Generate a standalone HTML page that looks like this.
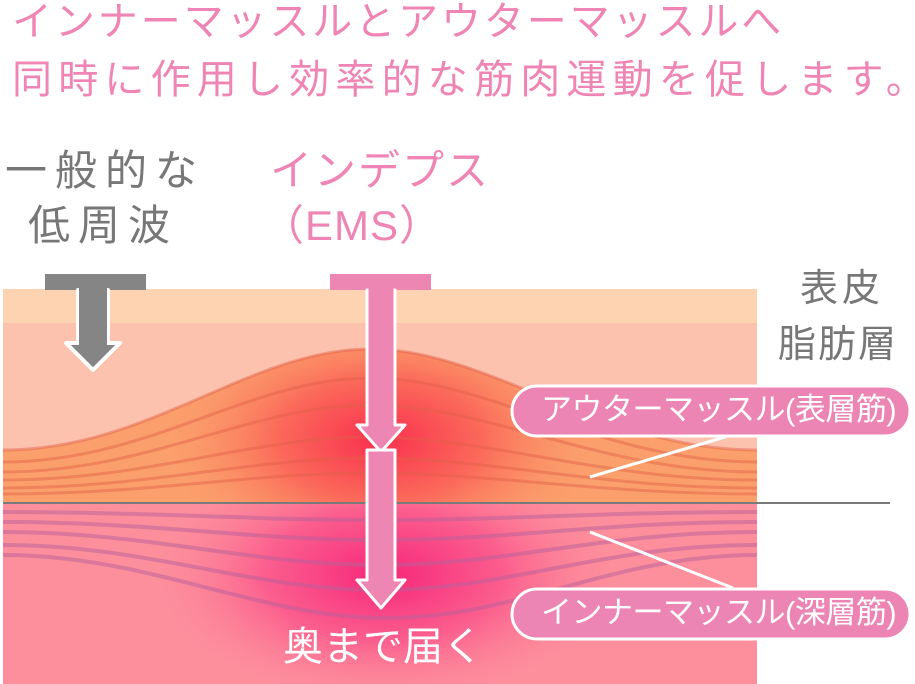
<!DOCTYPE html>
<html><head><meta charset="utf-8"><style>
html,body{margin:0;padding:0;background:#fff;}
body{width:915px;height:684px;overflow:hidden;position:relative;font-family:"Liberation Sans","Noto Sans CJK JP",sans-serif;}
.t{position:absolute;white-space:nowrap;line-height:1;}
</style></head><body>
<svg width="915" height="684" style="position:absolute;left:0;top:0">
<defs>
<radialGradient id="rg1" cx="380" cy="440" r="230" gradientUnits="userSpaceOnUse" gradientTransform="translate(380 440) scale(1 0.6) translate(-380 -440)">
<stop offset="0" stop-color="#f9304f"/><stop offset="0.45" stop-color="#fb6a5a"/><stop offset="1" stop-color="#fba06c" stop-opacity="0"/></radialGradient>
<radialGradient id="rg2" cx="385" cy="575" r="240" gradientUnits="userSpaceOnUse" gradientTransform="translate(385 575) scale(1 0.55) translate(-385 -575)">
<stop offset="0" stop-color="#f7277a"/><stop offset="0.5" stop-color="#fb5e8e"/><stop offset="1" stop-color="#fd8a9c" stop-opacity="0"/></radialGradient>
<clipPath id="pc"><rect x="3" y="289" width="754" height="395"/></clipPath>
</defs>
<g clip-path="url(#pc)">
<rect x="3" y="289" width="754" height="395" fill="#fd8f9c"/>
<rect x="3" y="289" width="754" height="34" fill="#fdd3b1"/>
<rect x="3" y="323" width="754" height="180" fill="#fdc2ad"/>
<path d="M3,450 C150,450 250,349 370,349 C490,349 600,450 757,450 L757,503 L3,503Z" fill="#fba06c"/>
<path d="M3,450 C150,450 250,349 370,349 C490,349 600,450 757,450 L757,503 L3,503Z" fill="url(#rg1)"/>
<g fill="none" stroke="#e0604a" stroke-opacity="0.45" stroke-width="3">
<path d="M3,450 C150,450 250,349 370,349 C490,349 600,450 757,450"/>
<path d="M3,462 C150,462 250,378 370,378 C490,378 600,462 757,462"/>
<path d="M3,472 C150,472 250,405 370,405 C490,405 600,472 757,472"/>
<path d="M3,480 C150,480 250,437 370,437 C490,437 600,480 757,480"/>
<path d="M3,488 C150,488 250,458 370,458 C490,458 600,488 757,488"/>
<path d="M3,494 C150,494 250,473 370,473 C490,473 600,494 757,494"/>
</g>
<rect x="3" y="503" width="754" height="181" fill="#fd8f9c"/>
<rect x="3" y="503" width="754" height="181" fill="url(#rg2)"/>
<g fill="none" stroke="#b8609a" stroke-opacity="0.5" stroke-width="4">
<path d="M3,512 C150,512 250,520 380,520 C510,520 600,512 757,512"/>
<path d="M3,522 C150,522 250,540 380,540 C510,540 600,522 757,522"/>
<path d="M3,532 C150,532 250,565 380,565 C510,565 600,532 757,532"/>
<path d="M3,545 C150,545 250,590 380,590 C510,590 600,545 757,545"/>
<path d="M3,555 C150,555 260,618 385,618 C520,618 610,555 757,555"/>
</g>
</g>
<line x1="3" y1="503" x2="890" y2="503" stroke="#7a7a7a" stroke-width="2"/>
<rect x="45" y="274" width="101" height="16" fill="#858585"/>
<path d="M78,290 L108,290 L108,343 L120,343 L93,370 L66,343 L78,343Z" fill="#858585" stroke="#fff" stroke-width="4" stroke-linejoin="round"/>
<rect x="79" y="288" width="28" height="57" fill="#858585"/>
<rect x="330" y="274" width="101" height="16" fill="#ee86b4"/>
<path d="M367,290 L395,290 L395,425 L405,425 L381,452 L357,425 L367,425Z" fill="#ee86b4" stroke="#fff" stroke-width="3" stroke-linejoin="round"/>
<path d="M367,450 L395,450 L395,580 L405,580 L381,608 L357,580 L367,580Z" fill="#ee86b4" stroke="#fff" stroke-width="3" stroke-linejoin="round"/>
<rect x="368.5" y="288" width="25" height="139" fill="#ee86b4"/>
<line x1="590" y1="477" x2="735" y2="434" stroke="#fff" stroke-width="3"/>
<line x1="590" y1="532" x2="733" y2="588" stroke="#fff" stroke-width="3"/>
<rect x="512" y="386" width="398" height="50" rx="25" fill="#ed85b4" stroke="#fff" stroke-width="3"/>
<rect x="512" y="589" width="398" height="50" rx="25" fill="#ed85b4" stroke="#fff" stroke-width="3"/>
</svg>
<div class="t" style="left:12px;top:2px;font-size:40px;letter-spacing:2.9px;color:#ef85b4">インナーマッスルとアウターマッスルへ</div>
<div class="t" style="left:12px;top:60px;font-size:40px;letter-spacing:6.2px;color:#ef85b4">同時に作用し効率的な筋肉運動を促します。</div>
<div class="t" style="left:5px;top:150px;font-size:42px;letter-spacing:8px;color:#777">一般的な</div>
<div class="t" style="left:28px;top:205px;font-size:42px;letter-spacing:8px;color:#777">低周波</div>
<div class="t" style="left:270px;top:150px;font-size:42px;letter-spacing:2px;color:#ef85b4">インデプス</div>
<div class="t" style="left:262px;top:205px;font-size:42px;letter-spacing:1px;color:#ef85b4">（EMS）</div>
<div class="t" style="left:800px;top:270px;font-size:38px;letter-spacing:4px;color:#777">表皮</div>
<div class="t" style="left:778px;top:326px;font-size:38px;letter-spacing:2px;color:#777">脂肪層</div>
<div class="t" style="left:541px;top:394px;font-size:31px;letter-spacing:-0.5px;color:#fff">アウターマッスル(表層筋)</div>
<div class="t" style="left:541px;top:597px;font-size:31px;letter-spacing:-0.5px;color:#fff">インナーマッスル(深層筋)</div>
<div class="t" style="left:283px;top:627px;font-size:40px;letter-spacing:0px;color:#fff">奥まで届く</div>
</body></html>
